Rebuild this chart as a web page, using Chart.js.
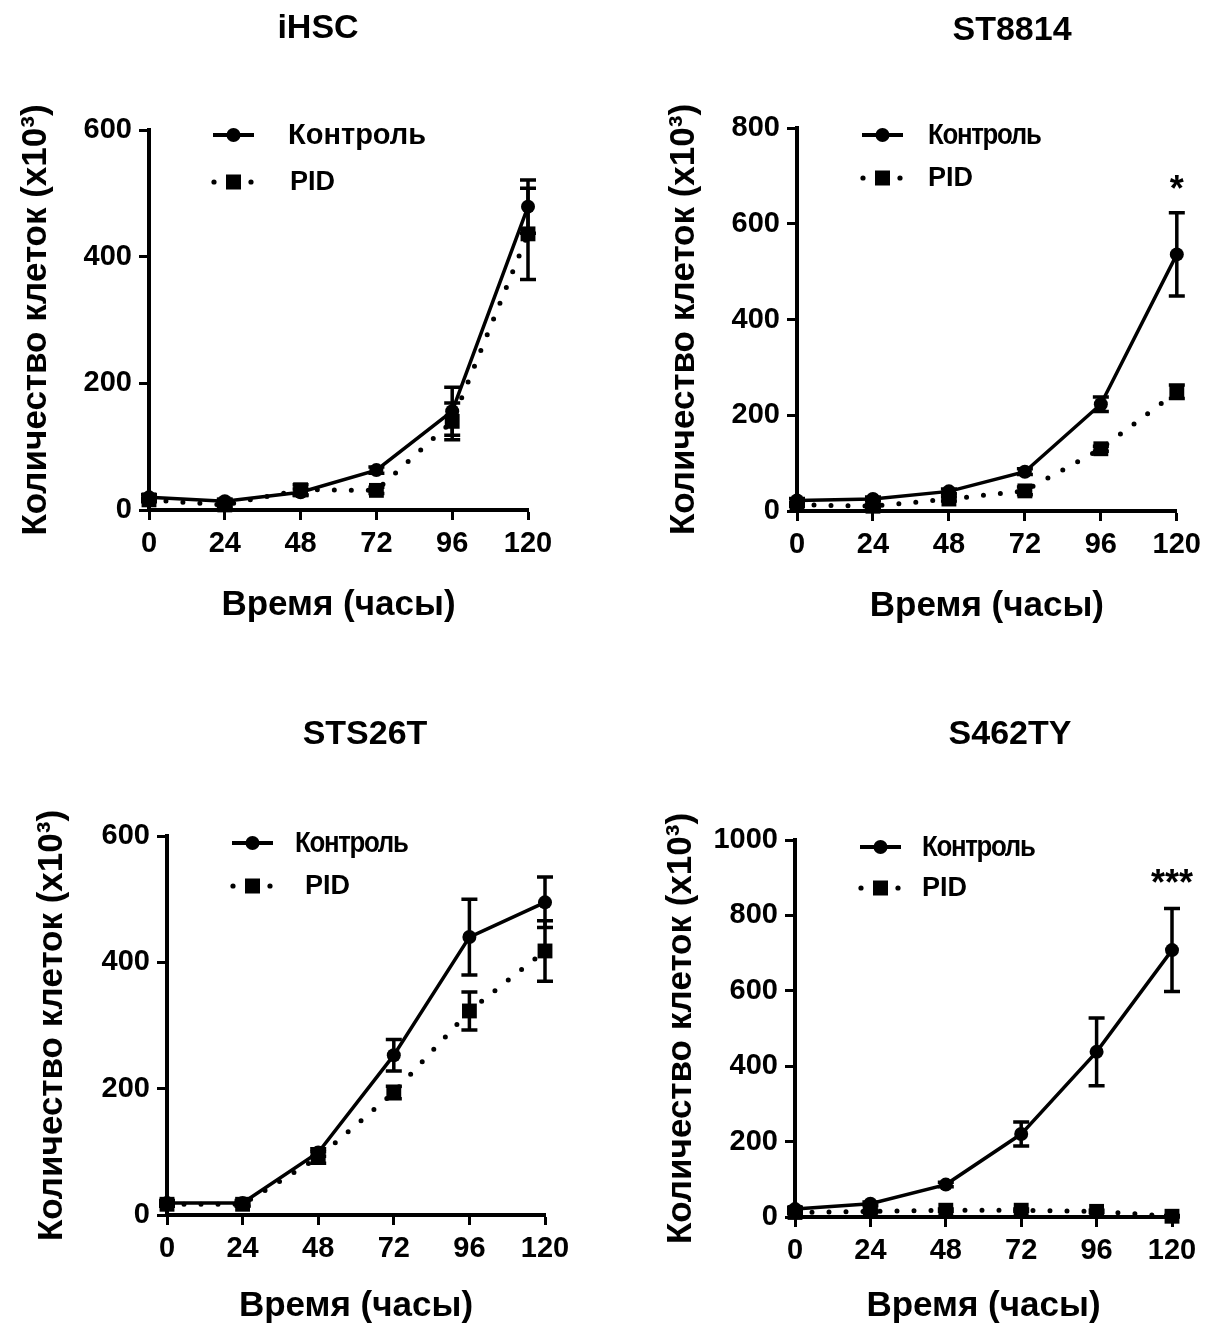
<!DOCTYPE html>
<html lang="ru">
<head>
<meta charset="utf-8">
<script src="https://cdn.jsdelivr.net/npm/chart.js@4.4.1/dist/chart.umd.min.js"></script>
<style>
  html, body { margin: 0; padding: 0; background: #fff; }
  body { width: 1208px; height: 1327px; position: relative; overflow: hidden; }
  .panel { position: absolute; }
</style>
</head>
<body>
<div class="panel" style="left:0;top:0"><canvas id="c0" width="604" height="663"></canvas></div>
<div class="panel" style="left:604px;top:0"><canvas id="c1" width="604" height="663"></canvas></div>
<div class="panel" style="left:0;top:664px"><canvas id="c2" width="604" height="663"></canvas></div>
<div class="panel" style="left:604px;top:664px"><canvas id="c3" width="604" height="663"></canvas></div>
<script>
// data (cells x10^3)
const hours = [0, 24, 48, 72, 96, 120];
const titles = ['iHSC', 'ST8814', 'STS26T', 'S462TY'];
const seriesNames = ['Контроль', 'PID'];
const xLabel = 'Время (часы)';
const yLabel = 'Количество клеток (x10³)';
const yMax = [600, 800, 600, 1000];
const yStep = [200, 200, 200, 200];

const controlMean = [
  [20, 14, 28, 63, 156, 479],
  [22, 25, 41, 82, 223, 536],
  [19, 19, 99, 253, 440, 495],
  [21, 35, 86, 220, 438, 708]
];
const controlErr = [
  [4, 3, 5, 5, 38, 42],
  [4, 4, 5, 6, 15, 87],
  [4, 4, 6, 25, 60, 40],
  [4, 5, 6, 32, 90, 110]
];
const pidMean = [
  [16, 8, 32, 31, 140, 436],
  [13, 10, 25, 42, 130, 249],
  [17, 17, 91, 194, 323, 418],
  [12, 15, 18, 18, 15, 2]
];
const pidErr = [
  [3, 3, 8, 5, 29, 72],
  [3, 3, 4, 8, 5, 14],
  [3, 3, 9, 10, 30, 48],
  [3, 3, 3, 3, 3, 2]
];
const starText = ['', '*', '', '***'];
const starLevel = [0, 695, 0, 915];

// placement of each panel inside its canvas
const layouts = [
  { pad: { left: 0, right: 76, top: 130, bottom: 33 }, yW: 149, xH: 120, xTitlePad: 4, titleX: 318, titleY: 29,
    leg: { dx: 64, y1: 5, y2: 52, t1: 139, t2: 141, narrow: false } },
  { pad: { left: 44, right: 26, top: 128, bottom: 32 }, yW: 149, xH: 120, xTitlePad: 4, titleX: 408, titleY: 31,
    leg: { dx: 65, y1: 7, y2: 50, t1: 131, t2: 131, narrow: true } },
  { pad: { left: 16, right: 59, top: 172, bottom: 0 }, yW: 151, xH: 112, xTitlePad: 0, titleX: 365, titleY: 71,
    leg: { dx: 65, y1: 7, y2: 50, t1: 128, t2: 138, narrow: true } },
  { pad: { left: 41, right: 36, top: 176, bottom: 0 }, yW: 150, xH: 110, xTitlePad: 0, titleX: 406, titleY: 71,
    leg: { dx: 65, y1: 7, y2: 48, t1: 127, t2: 127, narrow: true } }
];

Chart.defaults.font.family = "'Liberation Sans', Arial, sans-serif";
Chart.defaults.color = '#000';

function drawLegend(ctx, area, leg) {
  const x0 = area.left + leg.dx;
  const r1 = area.top + leg.y1;
  const r2 = area.top + leg.y2;
  ctx.save();
  ctx.fillStyle = '#000';
  ctx.strokeStyle = '#000';
  // solid line with circle
  ctx.lineWidth = 4;
  ctx.beginPath();
  ctx.moveTo(x0, r1);
  ctx.lineTo(x0 + 41, r1);
  ctx.stroke();
  ctx.beginPath();
  ctx.arc(x0 + 20.5, r1, 7, 0, Math.PI * 2);
  ctx.fill();
  // dotted line with square
  [x0 + 1, x0 + 38].forEach(dx => {
    ctx.beginPath();
    ctx.arc(dx, r2, 2.6, 0, Math.PI * 2);
    ctx.fill();
  });
  ctx.fillRect(x0 + 13, r2 - 7.5, 15, 15);

  ctx.textBaseline = 'middle';
  ctx.textAlign = 'left';
  if (leg.narrow) {
    // condensed lettering, squeezed horizontally
    ctx.save();
    ctx.translate(area.left + leg.t1, r1 + 1);
    ctx.scale(0.86, 1);
    ctx.font = "bold 30px 'Liberation Sans', Arial";
    ctx.letterSpacing = '-1.5px';
    ctx.fillText(seriesNames[0], 0, 0);
    ctx.restore();
  } else {
    ctx.font = "bold 29px 'Liberation Sans', Arial";
    ctx.fillText(seriesNames[0], area.left + leg.t1, r1 + 1);
  }
  ctx.font = "bold 27px 'Liberation Sans', Arial";
  ctx.fillText(seriesNames[1], area.left + leg.t2, r2 + 1);
  ctx.restore();
}

const decor = {
  id: 'decor',
  afterDatasetsDraw(chart) {
    const ctx = chart.ctx;
    const ys = chart.scales.y;
    chart.data.datasets.forEach((ds, di) => {
      const meta = chart.getDatasetMeta(di);
      ds.errors.forEach((e, i) => {
        const pt = meta.data[i];
        const v = ds.data[i].y;
        const yt = ys.getPixelForValue(v + e);
        const yb = ys.getPixelForValue(Math.max(v - e, 0));
        ctx.save();
        ctx.strokeStyle = '#000';
        ctx.lineWidth = 3.5;
        ctx.beginPath();
        ctx.moveTo(pt.x, yt); ctx.lineTo(pt.x, yb);
        ctx.moveTo(pt.x - 8, yt); ctx.lineTo(pt.x + 8, yt);
        ctx.moveTo(pt.x - 8, yb); ctx.lineTo(pt.x + 8, yb);
        ctx.stroke();
        ctx.restore();
      });
    });
  },
  afterDraw(chart, args, opts) {
    const ctx = chart.ctx;
    const p = opts.panel;
    const lay = layouts[p];
    ctx.save();
    ctx.fillStyle = '#000';
    ctx.textAlign = 'center';
    ctx.textBaseline = 'middle';
    ctx.font = "bold 34px 'Liberation Sans', Arial";
    ctx.fillText(titles[p], lay.titleX, lay.titleY);
    if (starText[p]) {
      ctx.font = "bold 36px 'Liberation Sans', Arial";
      ctx.textBaseline = 'alphabetic';
      const sx = chart.scales.x.getPixelForValue(120);
      const sy = chart.scales.y.getPixelForValue(starLevel[p]);
      ctx.fillText(starText[p], sx, sy + 23);
    }
    ctx.restore();
    drawLegend(ctx, chart.chartArea, lay.leg);
  }
};

function makePanel(p) {
  const lay = layouts[p];
  const ctx = document.getElementById('c' + p).getContext('2d');
  const pts = arr => hours.map((h, i) => ({ x: h, y: arr[i] }));
  return new Chart(ctx, {
    type: 'line',
    data: {
      datasets: [
        {
          label: seriesNames[1],
          data: pts(pidMean[p]),
          errors: pidErr[p],
          borderColor: '#000',
          backgroundColor: '#000',
          borderWidth: 5,
          borderDash: [0, 17],
          borderCapStyle: 'round',
          pointStyle: 'rect',
          pointRadius: 10.5,
          pointBorderWidth: 0,
          pointBackgroundColor: '#000',
          clip: false
        },
        {
          label: seriesNames[0],
          data: pts(controlMean[p]),
          errors: controlErr[p],
          borderColor: '#000',
          backgroundColor: '#000',
          borderWidth: 3.5,
          pointStyle: 'circle',
          pointRadius: 7,
          pointBorderWidth: 0,
          pointBackgroundColor: '#000',
          clip: false
        }
      ]
    },
    options: {
      responsive: false,
      animation: false,
      devicePixelRatio: 1,
      layout: { padding: lay.pad },
      plugins: {
        legend: { display: false },
        title: { display: false },
        tooltip: { enabled: false },
        decor: { panel: p }
      },
      scales: {
        x: {
          type: 'linear',
          min: 0,
          max: 120,
          afterFit: s => { s.height = lay.xH; },
          ticks: { stepSize: 24, padding: 7, color: '#000', font: { size: 29, weight: 'bold' } },
          grid: { drawOnChartArea: false, tickLength: 10, tickWidth: 3, tickColor: '#000' },
          border: { display: true, width: 4, color: '#000' },
          title: { display: true, text: xLabel, color: '#000', font: { size: 35, weight: 'bold' },
                   padding: { top: 0, bottom: lay.xTitlePad } }
        },
        y: {
          min: 0,
          max: yMax[p],
          afterFit: s => { s.width = lay.yW; },
          ticks: { stepSize: yStep[p], padding: 7, color: '#000', font: { size: 29, weight: 'bold' },
                   format: { useGrouping: false } },
          grid: { drawOnChartArea: false, tickLength: 10, tickWidth: 3, tickColor: '#000' },
          border: { display: true, width: 4, color: '#000' },
          title: { display: true, text: yLabel, color: '#000', font: { size: 35, weight: 'bold' },
                   padding: { top: 15, bottom: 0 } }
        }
      }
    },
    plugins: [decor]
  });
}

[0, 1, 2, 3].forEach(makePanel);
</script>
</body>
</html>
